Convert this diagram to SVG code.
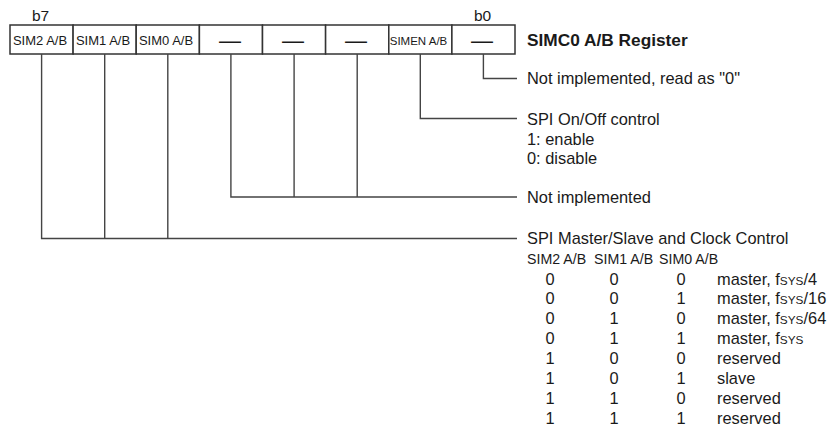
<svg xmlns="http://www.w3.org/2000/svg" width="836" height="432" viewBox="0 0 836 432">
<style>
text{font-family:"Liberation Sans",Arial,sans-serif;fill:#1a1a1a}
.cell{fill:#fff;stroke:#333;stroke-width:1.5}
.ct{font-size:13px;text-anchor:middle}
.cs{font-size:11.5px;text-anchor:middle}
.dash{font-size:22px;text-anchor:middle}
.lb{font-size:15.5px}
.t{font-size:16.4px}
.h{font-size:14.2px}
.c{font-size:16.4px;text-anchor:middle}
.sc{font-size:11.8px}
.conn{fill:none;stroke:#444;stroke-width:1.4}
</style>
<rect width="836" height="432" fill="#fff"/>
<g id="register">
<text class="lb" x="32" y="20.5">b7</text>
<text class="lb" x="474" y="20.5">b0</text>
<g id="bit7"><rect class="cell" x="10" y="25" width="63.1" height="29"/><text class="ct" x="40" y="44.5">SIM2 A/B</text></g>
<g id="bit6"><rect class="cell" x="73.1" y="25" width="63.1" height="29"/><text class="ct" x="103" y="44.5">SIM1 A/B</text></g>
<g id="bit5"><rect class="cell" x="136.2" y="25" width="63.2" height="29"/><text class="ct" x="166" y="44.5">SIM0 A/B</text></g>
<g id="bit4"><rect class="cell" x="199.4" y="25" width="63.1" height="29"/><text class="dash" x="230" y="48">—</text></g>
<g id="bit3"><rect class="cell" x="262.5" y="25" width="63.1" height="29"/><text class="dash" x="293" y="48">—</text></g>
<g id="bit2"><rect class="cell" x="325.6" y="25" width="63.2" height="29"/><text class="dash" x="356" y="48">—</text></g>
<g id="bit1"><rect class="cell" x="388.8" y="25" width="63.1" height="29"/><text class="cs" x="418.5" y="45">SIMEN A/B</text></g>
<g id="bit0"><rect class="cell" x="451.9" y="25" width="63.1" height="29"/><text class="dash" x="482" y="48">—</text></g>
<text x="527" y="46" style="font-size:17.3px;font-weight:bold">SIMC0 A/B Register</text>
</g>
<g id="connectors">
<polyline class="conn" points="483.4,54 483.4,78.5 517,78.5"/>
<polyline class="conn" points="420.3,54 420.3,118.5 517,118.5"/>
<polyline class="conn" points="230.9,54 230.9,197 517,197"/>
<line class="conn" x1="294.1" y1="54" x2="294.1" y2="197"/>
<line class="conn" x1="357.2" y1="54" x2="357.2" y2="197"/>
<polyline class="conn" points="41.6,54 41.6,238.5 517,238.5"/>
<line class="conn" x1="104.7" y1="54" x2="104.7" y2="238.5"/>
<line class="conn" x1="167.8" y1="54" x2="167.8" y2="238.5"/>
</g>
<g id="desc-b0">
<text class="t" x="527" y="83.5">Not implemented, read as "0"</text>
</g>
<g id="desc-simen">
<text class="t" x="527" y="125">SPI On/Off control</text>
<text class="t" x="527" y="144.5">1: enable</text>
<text class="t" x="527" y="164">0: disable</text>
</g>
<g id="desc-unimpl">
<text class="t" x="527" y="203">Not implemented</text>
</g>
<g id="desc-sim">
<text class="t" x="527" y="244">SPI Master/Slave and Clock Control</text>
<text class="h" x="527" y="264">SIM2 A/B</text>
<text class="h" x="594" y="264">SIM1 A/B</text>
<text class="h" x="659" y="264">SIM0 A/B</text>
<g id="rows">
<text class="c" x="550" y="284.5">0</text><text class="c" x="614" y="284.5">0</text><text class="c" x="681" y="284.5">0</text><text class="t" x="717" y="284.5">master, f<tspan class="sc">SYS</tspan>/4</text>
<text class="c" x="550" y="304.4">0</text><text class="c" x="614" y="304.4">0</text><text class="c" x="681" y="304.4">1</text><text class="t" x="717" y="304.4">master, f<tspan class="sc">SYS</tspan>/16</text>
<text class="c" x="550" y="324.3">0</text><text class="c" x="614" y="324.3">1</text><text class="c" x="681" y="324.3">0</text><text class="t" x="717" y="324.3">master, f<tspan class="sc">SYS</tspan>/64</text>
<text class="c" x="550" y="344.2">0</text><text class="c" x="614" y="344.2">1</text><text class="c" x="681" y="344.2">1</text><text class="t" x="717" y="344.2">master, f<tspan class="sc">SYS</tspan></text>
<text class="c" x="550" y="364.1">1</text><text class="c" x="614" y="364.1">0</text><text class="c" x="681" y="364.1">0</text><text class="t" x="717" y="364.1">reserved</text>
<text class="c" x="550" y="384">1</text><text class="c" x="614" y="384">0</text><text class="c" x="681" y="384">1</text><text class="t" x="717" y="384">slave</text>
<text class="c" x="550" y="404">1</text><text class="c" x="614" y="404">1</text><text class="c" x="681" y="404">0</text><text class="t" x="717" y="404">reserved</text>
<text class="c" x="550" y="424">1</text><text class="c" x="614" y="424">1</text><text class="c" x="681" y="424">1</text><text class="t" x="717" y="424">reserved</text>
</g>
</g>
</svg>
